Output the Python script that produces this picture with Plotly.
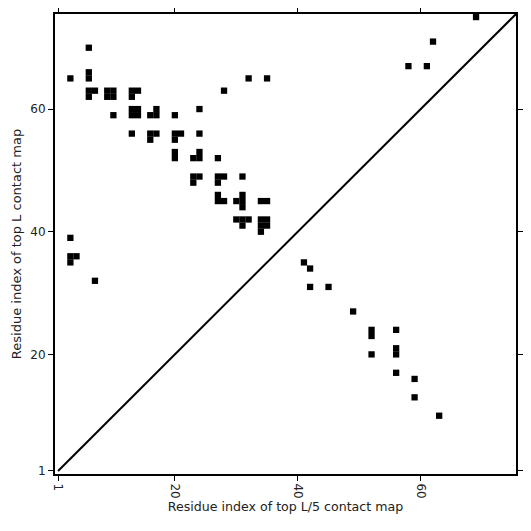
import plotly.graph_objects as go

L = 75
x_vals = [6, 3, 6, 6, 6, 7, 6, 9, 10, 9, 10, 13, 14, 13, 10, 13, 14, 13, 14, 17, 16, 17,
          20, 24, 13, 16, 17, 16, 20, 21, 20, 24, 20, 20, 24, 23, 24, 28, 27, 23, 24, 23,
          27, 28, 27, 31, 27, 27, 28, 31, 31, 31, 30, 34, 35, 30, 31, 32, 31, 34, 35, 34,
          35, 34, 3, 3, 4, 3, 7, 32, 35,
          41, 42, 42, 45, 49, 52, 52, 56, 52, 56, 56, 56, 59, 59, 63, 69, 62, 58, 61]
y_vals = [70, 65, 65, 66, 63, 63, 62, 62, 62, 63, 63, 63, 63, 62, 59, 59, 59, 60, 60, 60, 59, 59,
          59, 60, 56, 56, 56, 55, 56, 56, 55, 56, 53, 52, 53, 52, 52, 63, 52, 49, 49, 48,
          49, 49, 48, 49, 46, 45, 45, 46, 45, 44, 45, 45, 45, 42, 42, 42, 41, 42, 42, 41,
          41, 40, 39, 36, 36, 35, 32, 65, 65,
          35, 34, 31, 31, 27, 24, 23, 24, 20, 21, 20, 17, 16, 13, 10, 75, 71, 67, 67]
x_ticks = [1, 20, 40, 60]
y_ticks = [1, 20, 40, 60]

fig = go.Figure()
fig.add_trace(go.Scatter(x=[1, L + 1], y=[1, L + 1], mode="lines",
                         line=dict(color="black", width=2), hoverinfo="skip"))
fig.add_trace(go.Scatter(x=x_vals, y=y_vals, mode="markers",
                         marker=dict(symbol="square", size=6.3, color="black",
                                     line=dict(width=0))))

axis_common = dict(showgrid=False, zeroline=False, showline=True, linecolor="black",
                   linewidth=2, mirror="ticks", ticks="outside", ticklen=5, tickwidth=1,
                   tickcolor="black", tickfont=dict(family="DejaVu Sans", size=12, color="#222"),
                   range=[0.5, L + 0.5], automargin=False)
fig.update_xaxes(**axis_common, tickvals=x_ticks, ticktext=[str(t) for t in x_ticks],
                 tickangle=90,
                 title=dict(text="Residue index of top L/5 contact map", standoff=4,
                            font=dict(family="DejaVu Sans", size=12.6, color="#222")))
fig.update_yaxes(**axis_common, tickvals=y_ticks, ticktext=[str(t) for t in y_ticks],
                 title=dict(text="Residue index of top L contact map", standoff=6,
                            font=dict(family="DejaVu Sans", size=13, color="#222")))
fig.update_layout(width=523, height=523, showlegend=False,
                  plot_bgcolor="white", paper_bgcolor="white",
                  margin=dict(l=47, r=15, t=6, b=57))
fig.write_html("out.html")
